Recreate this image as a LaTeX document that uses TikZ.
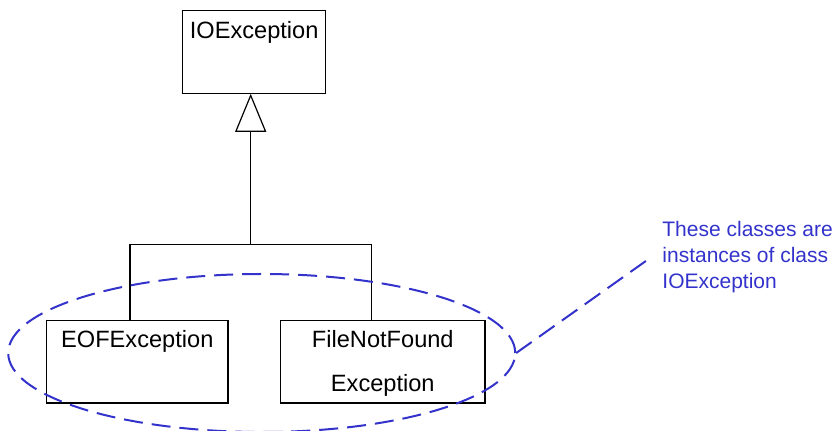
\documentclass[tikz,border=0pt]{standalone}
\usepackage{fontspec}
\setmainfont{Liberation Sans}
\usetikzlibrary{arrows.meta,shapes.geometric}
\definecolor{noteblue}{RGB}{51,51,204}

\tikzset{
  classbox/.style={draw, line width=0.6pt, inner sep=0pt, minimum height=41.2pt},
  classname/.style={anchor=base, inner sep=0pt, align=center, font=\fontsize{11.8}{22}\selectfont},
  inherit/.style={line width=0.6pt, -{Triangle[open, length=19pt, width=15.5pt]}},
  notedash/.style={draw=noteblue, line width=1pt, dash pattern=on 9.5pt off 4.5pt},
}

\begin{document}
\begin{tikzpicture}[x=0.5pt,y=-0.5pt]
\useasboundingbox (0,0) rectangle (838,431);

% the three classes
\node[classbox, minimum width=71.5pt] (io) at (254.2,52) {};
\node[classbox, minimum width=90.7pt] (eof) at (137.3,361.8) {};
\node[classbox, minimum width=102.2pt] (fnf) at (382.8,361.8) {};

% names sit on the last baseline
\node[classname] (io-name) at ([yshift=-14pt]io.north) {IOException};
\node[classname] (eof-name) at ([yshift=-14pt]eof.north) {EOFException};
\node[classname] (fnf-name) at ([yshift=-36pt]fnf.north) {FileNotFound\\Exception};

% generalisation
\coordinate (joint) at (250.7,244.7);
\draw[inherit] (joint) -- (joint |- io.south);
\draw[line width=0.6pt] ([xshift=-3.65pt]eof.north) |- (joint) -| ([xshift=-5.55pt]fnf.north);

% note
\node[ellipse, notedash, minimum width=253.5pt, minimum height=79pt, inner sep=0pt] (grp) at (261.7,353) {};
\node[anchor=west, inner sep=0pt, align=left, text=noteblue, font=\fontsize{10.5}{13}\selectfont] (note) at (662,257.5) {These classes are\\instances of class\\IOException};
\draw[notedash] (grp.east) -- ([xshift=-5.6pt]note.west);

\end{tikzpicture}
\end{document}
